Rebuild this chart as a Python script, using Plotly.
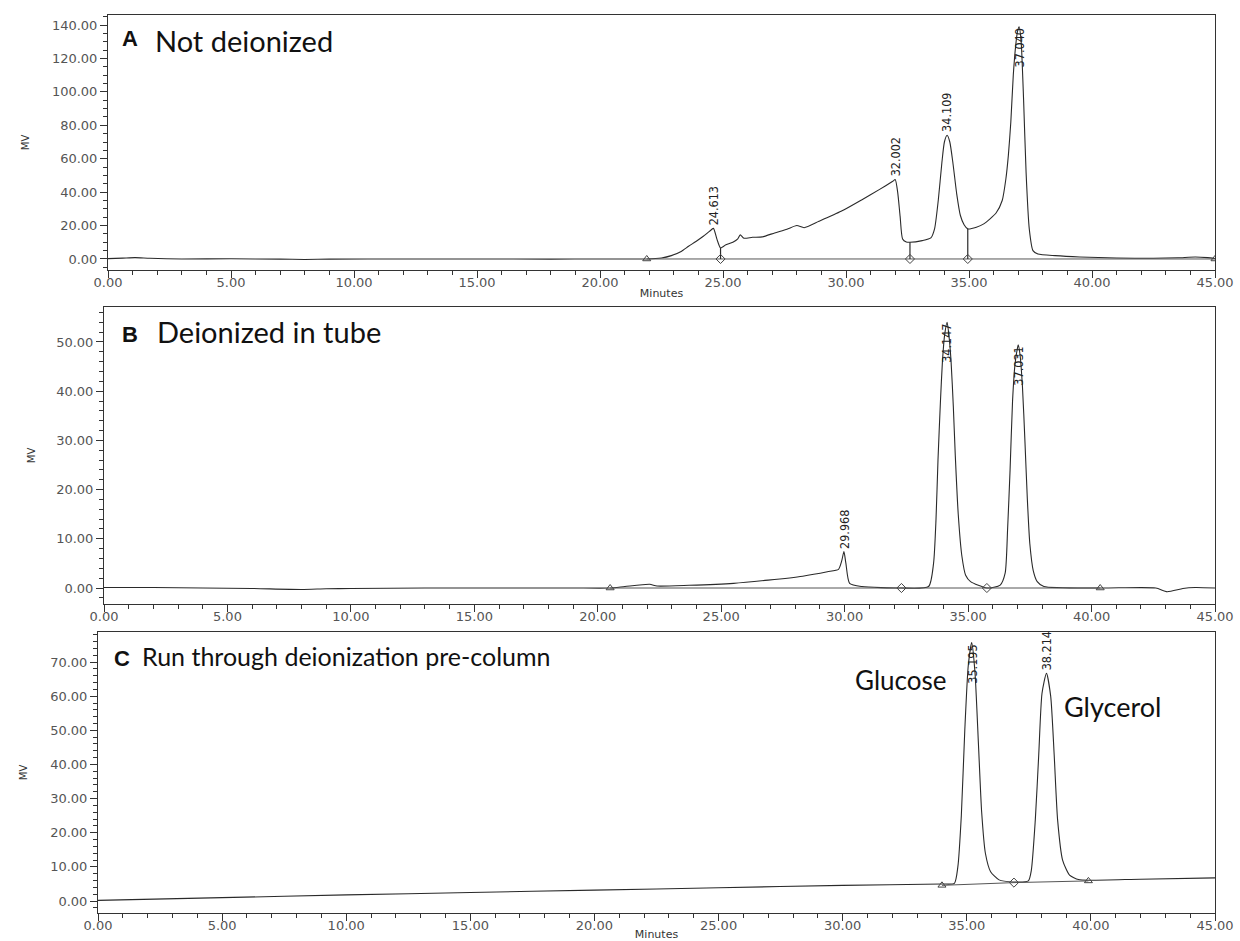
import plotly.graph_objects as go

# ---------------- Data ----------------
# Panel A: Not deionized
a_time = [0, 0.6, 1.1, 1.7, 3, 5, 7, 8, 9, 12, 15, 18, 20, 21, 21.9, 22.5, 22.9, 23.3, 23.6, 23.9,
          24.2, 24.45, 24.61, 24.75, 24.9, 25.1, 25.4, 25.6, 25.7, 25.85, 26.2, 26.6, 27.1, 27.6,
          28.0, 28.3, 28.9, 29.8, 30.65, 31.35, 31.9, 32.0, 32.1, 32.2, 32.3, 32.45, 32.6, 33.1,
          33.45, 33.6, 33.75, 33.9, 34.0, 34.11, 34.22, 34.35, 34.5, 34.65, 34.8, 34.95, 35.3,
          35.6, 36.1, 36.35, 36.5, 36.6, 36.7, 36.8, 36.9, 36.97, 37.04, 37.12, 37.22, 37.32,
          37.45, 37.6, 37.8, 38.5, 39.5, 41, 42.5, 43.5, 44.2, 44.7, 45]
a_mv = [0.2, 0.5, 0.8, 0.4, 0, 0.1, -0.1, -0.3, -0.1, 0, 0, -0.1, 0, 0, 0, 0.6, 2, 4.5, 7.6, 10.5,
        13.6, 16.5, 18.3, 12, 6.6, 8.3, 10, 12, 14.4, 12.4, 13, 13.2, 15.6, 17.8,
        20, 18.7, 22.5, 28.5, 35.5, 41.5, 46.5, 47.5, 40, 25.5, 12, 10.2, 10, 11,
        12.6, 18, 35, 58, 70, 74, 70, 57, 39, 26, 20.5, 18, 19,
        21, 27.5, 35, 48, 62, 82, 110, 128, 136, 139, 130, 95, 52,
        18, 5, 3, 2, 1.2, 0.6, 0.4, 0.7, 1.2, 0.8, 0.3]
a_peak_time = [24.613, 32.002, 34.109, 37.040]
a_peak_mv = [18.3, 47.5, 74.0, 139.0]
a_peak_label = ["24.613", "32.002", "34.109", "37.040"]
a_drop_time = [24.9, 32.6, 34.95]
a_drop_mv = [6.6, 10.0, 18.0]
a_tri_time = [21.9, 45.0]
a_tri_mv = [0.0, 0.0]
a_dia_time = [24.9, 32.6, 34.95]
a_dia_mv = [0.0, 0.0, 0.0]

# Panel B: Deionized in tube
b_time = [0, 2, 4, 6, 8, 9, 10, 13, 16, 19, 20.5, 21.1, 22.1, 22.4, 23.7, 25.5, 26.9, 28.3, 29.3,
          29.75, 29.88, 29.97, 30.05, 30.2, 30.7, 32.3, 33.4, 33.6, 33.7, 33.78, 33.88, 33.96,
          34.05, 34.15, 34.23, 34.31, 34.4, 34.48, 34.6, 34.75, 34.9, 35.1, 35.76, 36.3, 36.5,
          36.6, 36.7, 36.8, 36.9, 37.0, 37.03, 37.1, 37.2, 37.3, 37.4, 37.5, 37.64, 37.8, 38.07,
          40.35, 42.6, 43.06, 43.7, 44.2, 45]
b_mv = [0.1, 0.1, 0, -0.1, -0.3, -0.15, -0.1, 0, 0, 0, 0, 0.3, 0.75, 0.4, 0.55, 0.95, 1.6, 2.4, 3.3,
        3.8, 5.5, 7.4, 5.0, 0.95, 0.3, 0, 0.3, 5, 14, 26, 38, 46,
        51.5, 54.0, 51, 46, 37, 27, 15, 6.4, 2.6, 1.3, 0, 0.6, 3,
        12, 24, 38, 45.5, 48.8, 49.4, 47.5, 41, 30, 18, 9, 3.5, 1.3, 0.3,
        0, 0, -0.75, -0.1, 0.1, 0]
b_peak_time = [29.968, 34.147, 37.031]
b_peak_mv = [7.4, 54.0, 49.4]
b_peak_label = ["29.968", "34.147", "37.031"]
b_tri_time = [20.5, 40.35]
b_tri_mv = [0.0, 0.0]
b_dia_time = [32.3, 35.76]
b_dia_mv = [0.0, 0.0]

# Panel C: Run through deionization pre-column
c_time = [0, 5, 10, 15, 20, 25, 30, 34.0, 34.5, 34.64, 34.78, 34.92, 35.06, 35.2, 35.33, 35.47,
          35.6, 35.75, 35.96, 36.3, 36.86, 37.48, 37.6, 37.76, 37.9, 38.03, 38.21, 38.38, 38.52,
          38.66, 38.86, 39.14, 39.5, 39.97, 42, 45]
c_mv = [0.2, 1.0, 1.8, 2.5, 3.2, 3.9, 4.6, 5.0, 5.2, 10, 25, 50, 69, 75.7, 67, 46,
        26, 14, 8.6, 6.2, 5.6, 5.9, 9, 23.7, 43, 60.8, 66.7, 60, 43,
        23.7, 12, 7.6, 6.3, 6.1, 6.4, 6.8]
c_peak_time = [35.195, 38.214]
c_peak_mv = [75.7, 66.7]
c_peak_label = ["35.195", "38.214"]
c_tri_time = [34.0, 39.9]
c_tri_mv = [4.6, 5.9]
c_dia_time = [36.9]
c_dia_mv = [5.4]

panel_titles = [("A", "Not deionized"), ("B", "Deionized in tube"),
                ("C", "Run through deionization pre-column")]
compound_names = ["Glucose", "Glycerol"]

# ---------------- Layout geometry (pixels) ----------------
W, H = 1240, 941
RIGHT = 1215
panels = [
    dict(t=a_time, v=a_mv, pt=a_peak_time, pv=a_peak_mv, pl=a_peak_label,
         tri=(a_tri_time, a_tri_mv), dia=(a_dia_time, a_dia_mv),
         drop=(a_drop_time, a_drop_mv), base=(a_tri_time, a_tri_mv),
         left=108, top=15, bottom=270, yr=[-6.6, 146.0], dt=20, mdt=5, xtitle=True, ys=20),
    dict(t=b_time, v=b_mv, pt=b_peak_time, pv=b_peak_mv, pl=b_peak_label,
         tri=(b_tri_time, b_tri_mv), dia=(b_dia_time, b_dia_mv),
         drop=None, base=(b_tri_time, b_tri_mv),
         left=104, top=307, bottom=604, yr=[-3.25, 57.1], dt=10, mdt=2, xtitle=False, ys=18),
    dict(t=c_time, v=c_mv, pt=c_peak_time, pv=c_peak_mv, pl=c_peak_label,
         tri=(c_tri_time, c_tri_mv), dia=(c_dia_time, c_dia_mv),
         drop=None, base=([c_tri_time[0], c_dia_time[0], c_tri_time[1]],
                          [c_tri_mv[0], c_dia_mv[0], c_tri_mv[1]]),
         left=98, top=632, bottom=913, yr=[-3.5, 78.8], dt=10, mdt=2, xtitle=True, ys=20),
]

LINE = "#2a2a2a"
AX = "#333333"
TICKFONT = dict(family="DejaVu Sans, Verdana, sans-serif", size=13, color="#555555")
LABELFONT = dict(family="Liberation Sans Narrow, DejaVu Sans Condensed, Arial Narrow, sans-serif",
                 size=12.5, color="#222222")
TITLEFONT = "Lato, Calibri, Open Sans, sans-serif"

fig = go.Figure()
annotations = []
layout = {}

for i, p in enumerate(panels):
    n = "" if i == 0 else str(i + 1)
    xref, yref = "x" + n, "y" + n
    # signal
    fig.add_trace(go.Scatter(x=p["t"], y=p["v"], mode="lines", xaxis=xref, yaxis=yref,
                             line=dict(color=LINE, width=1.1, shape="spline", smoothing=0.6),
                             showlegend=False, hoverinfo="x+y"))
    # integration baseline
    fig.add_trace(go.Scatter(x=p["base"][0], y=p["base"][1], mode="lines", xaxis=xref, yaxis=yref,
                             line=dict(color="#555555", width=1), showlegend=False, hoverinfo="skip"))
    # drop lines
    if p["drop"] is not None:
        dx, dy = [], []
        for t, v in zip(*p["drop"]):
            dx += [t, t, None]
            dy += [0, v, None]
        fig.add_trace(go.Scatter(x=dx, y=dy, mode="lines", xaxis=xref, yaxis=yref,
                                 line=dict(color=LINE, width=1.2), showlegend=False,
                                 hoverinfo="skip"))
    # markers
    fig.add_trace(go.Scatter(x=p["tri"][0], y=p["tri"][1], mode="markers", xaxis=xref, yaxis=yref,
                             marker=dict(symbol="triangle-up-open", size=7, color="#444444",
                                         line=dict(width=1)),
                             showlegend=False, hoverinfo="skip"))
    fig.add_trace(go.Scatter(x=p["dia"][0], y=p["dia"][1], mode="markers", xaxis=xref, yaxis=yref,
                             marker=dict(symbol="diamond-open", size=7, color="#444444",
                                         line=dict(width=1)),
                             showlegend=False, hoverinfo="skip"))

    h_px = p["bottom"] - p["top"]
    upp = (p["yr"][1] - p["yr"][0]) / h_px  # data units per pixel
    L = 36 * upp
    for t, v, lab in zip(p["pt"], p["pv"], p["pl"]):
        if v + L > p["yr"][1] - 5 * upp:
            ya, ys = "top", 0
        else:
            ya, ys = "bottom", 1
        annotations.append(dict(x=t, y=v, xref=xref, yref=yref, text=lab, textangle=-90,
                                showarrow=False, xanchor="center", yanchor=ya, yshift=ys,
                                font=LABELFONT))

    layout["xaxis" + n] = dict(
        domain=[p["left"] / W, RIGHT / W], range=[0, 45], anchor=yref, automargin=False,
        dtick=5, tick0=0, tickformat=".2f", ticks="outside", ticklen=7, tickcolor=AX,
        tickwidth=1, minor=dict(dtick=1, ticks="outside", ticklen=4, tickcolor=AX),
        showline=True, mirror=True, linecolor=AX, linewidth=1, showgrid=False,
        zeroline=False, tickfont=TICKFONT, ticklabelstandoff=-7,
        title=dict(text="Minutes" if p["xtitle"] else "", standoff=0,
                   font=dict(family="DejaVu Sans, sans-serif", size=11, color="#333333")),
    )
    layout["yaxis" + n] = dict(
        domain=[1 - p["bottom"] / H, 1 - p["top"] / H], range=p["yr"], anchor=xref,
        automargin=False,
        dtick=p["dt"], tick0=0, tickformat=".2f", ticks="outside", ticklen=7, tickcolor=AX,
        tickwidth=1, minor=dict(dtick=p["mdt"], ticks="outside", ticklen=4, tickcolor=AX),
        showline=True, mirror=True, linecolor=AX, linewidth=1, showgrid=False,
        zeroline=False, tickfont=TICKFONT,
        title=dict(text="MV", standoff=p["ys"],
                   font=dict(family="DejaVu Sans, sans-serif", size=10, color="#333333")),
    )

# panel titles
title_pos = [(120, 39, 153, 40, 29), (120, 334, 155, 331, 29), (112, 658, 140, 656, 25)]
for (letter, text), (lx, ly, tx, ty, fs) in zip(panel_titles, title_pos):
    annotations.append(dict(x=lx / W, y=1 - ly / H, xref="paper", yref="paper",
                            text="<b>" + letter + "</b>",
                            showarrow=False, xanchor="left", yanchor="middle",
                            font=dict(family="Liberation Sans, Arial, sans-serif", size=22,
                                      color="#111111")))
    annotations.append(dict(x=tx / W, y=1 - ty / H, xref="paper", yref="paper", text=text,
                            showarrow=False, xanchor="left", yanchor="middle",
                            font=dict(family=TITLEFONT, size=fs, color="#111111")))

# compound names in panel C
annotations.append(dict(x=948 / W, y=1 - 680 / H, xref="paper", yref="paper",
                        text=compound_names[0], showarrow=False, xanchor="right",
                        yanchor="middle", font=dict(family=TITLEFONT, size=26, color="#111111")))
annotations.append(dict(x=1062 / W, y=1 - 706 / H, xref="paper", yref="paper",
                        text=compound_names[1], showarrow=False, xanchor="left",
                        yanchor="middle", font=dict(family=TITLEFONT, size=27, color="#111111")))

fig.update_layout(width=W, height=H, margin=dict(l=0, r=0, t=0, b=0, autoexpand=False),
                  paper_bgcolor="white", plot_bgcolor="white",
                  annotations=annotations, showlegend=False, **layout)

fig.write_html("out.html", config={"displayModeBar": False},
               post_script="document.body.style.margin='0';"
                           "document.body.style.overflow='hidden';")
